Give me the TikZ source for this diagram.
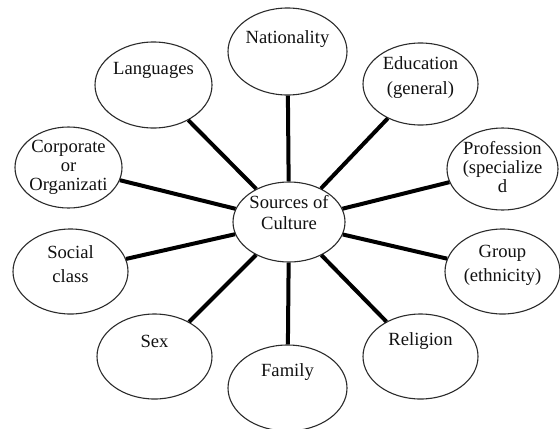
\documentclass[tikz,border=0pt]{standalone}
\usepackage{fontspec}
\setmainfont{Liberation Serif}
\usetikzlibrary{shapes.geometric}
\definecolor{srcink}{HTML}{111111}
\definecolor{srcline}{HTML}{2B2B2B}
\tikzset{
  bubble/.style={ellipse,draw=srcline,fill=white,line width=.55pt,inner sep=0pt},
  spoke/.style={draw=black,line width=2pt},
  txt/.style={align=center,text=srcink,inner sep=0pt},
}
\begin{document}
\begin{tikzpicture}[x=.5pt,y=-.5pt]
  \useasboundingbox (0,0) rectangle (560,428);
  % name / x / y / rx / ry / text y / line skip / text
  \foreach \n/\x/\y/\rx/\ry/\ty/\bs/\lab in {
      src/289/222/56/40/212.5/10.5/{Sources of\\Culture},
      nat/287.5/51.5/59.5/43.5/39/12/{Nationality},
      edu/420.5/84/57.5/41/77.5/12.5/{Education\\(general)},
      lang/153.5/85/58.5/43/70/12/{Languages},
      corp/68.5/167.5/53.5/40.5/167/9.5/{Corporate\\or\\Organizati},
      prof/502.5/169/55.5/41/167/9.5/{Profession\\(specialize\\d},
      soc/70.5/271.5/57.5/42.5/264/12/{Social\\class},
      grp/502.5/271.5/57.5/42.5/265/12/{Group\\(ethnicity)},
      sex/154.5/356.5/57.5/42.5/341/12/{Sex},
      rel/420.5/356.5/57.5/42.5/341/12/{Religion},
      fam/287.5/388/59.5/43/372/12/{Family}} {
    \node[bubble,minimum width=\rx pt,minimum height=\ry pt] (\n) at (\x,\y) {};
    \node[txt,font=\fontsize{9.3}{\bs}\selectfont] (\n-t) at (\x,\ty) {\lab};
  }
  \foreach \n in {nat,edu,prof,grp,rel,fam,sex,soc,corp,lang}
    \draw[spoke] (src) -- (\n);
\end{tikzpicture}
\end{document}
